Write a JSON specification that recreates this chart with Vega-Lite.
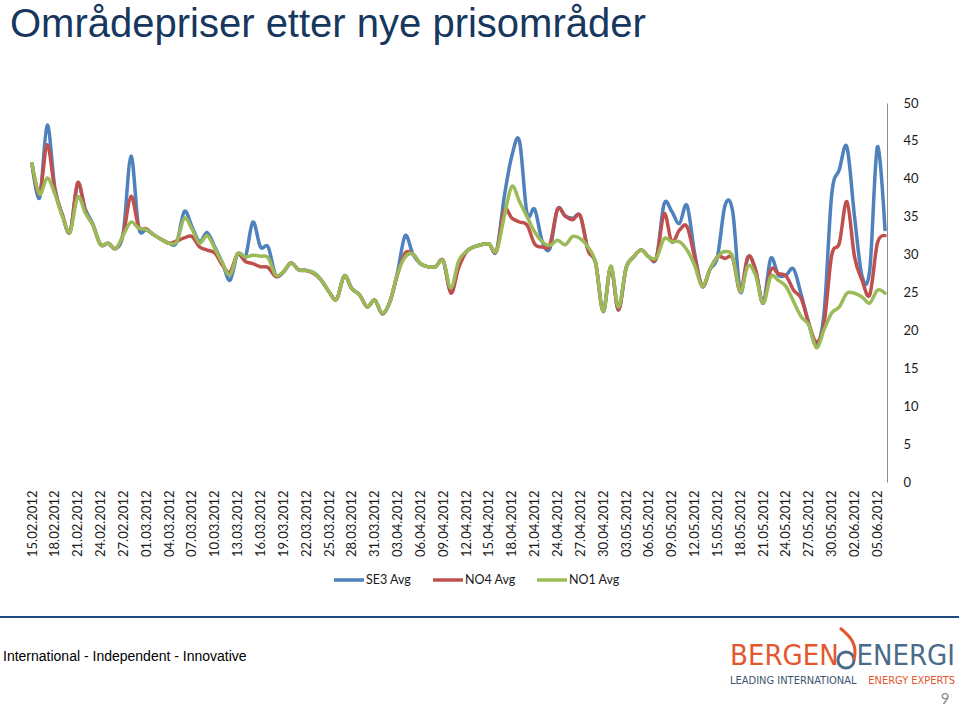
{
  "$schema": "https://vega.github.io/schema/vega-lite/v6.json",
  "width": 867,
  "height": 379,
  "autosize": "none",
  "padding": {"left": 20, "top": 103, "right": 72, "bottom": 225},
  "background": "white",
  "config": {"view": {"stroke": null}, "font": "Lato"},
  "title": {"text": "Områdepriser etter nye prisområder", "anchor": "start", "frame": "group", "orient": "top", "offset": 52, "dx": -10, "font": "Liberation Sans", "fontSize": 40, "fontWeight": "normal", "color": "#17375E"},
  "layer": [
    {
      "data": {"values": [
        {"date": "15.02.2012", "SE3 Avg": 42, "NO4 Avg": 42, "NO1 Avg": 42},
        {"date": "16.02.2012", "SE3 Avg": 37.5, "NO4 Avg": 38, "NO1 Avg": 38},
        {"date": "17.02.2012", "SE3 Avg": 47.1, "NO4 Avg": 44.5, "NO1 Avg": 40.1},
        {"date": "18.02.2012", "SE3 Avg": 38.8, "NO4 Avg": 38.5, "NO1 Avg": 38},
        {"date": "19.02.2012", "SE3 Avg": 35.2, "NO4 Avg": 35.2, "NO1 Avg": 35},
        {"date": "20.02.2012", "SE3 Avg": 33, "NO4 Avg": 33, "NO1 Avg": 33},
        {"date": "21.02.2012", "SE3 Avg": 39.3, "NO4 Avg": 39.5, "NO1 Avg": 37.6},
        {"date": "22.02.2012", "SE3 Avg": 36, "NO4 Avg": 35.7, "NO1 Avg": 35.5},
        {"date": "23.02.2012", "SE3 Avg": 34, "NO4 Avg": 33.9, "NO1 Avg": 33.9},
        {"date": "24.02.2012", "SE3 Avg": 31.3, "NO4 Avg": 31.3, "NO1 Avg": 31.3},
        {"date": "25.02.2012", "SE3 Avg": 31.5, "NO4 Avg": 31.5, "NO1 Avg": 31.5},
        {"date": "26.02.2012", "SE3 Avg": 30.8, "NO4 Avg": 30.8, "NO1 Avg": 30.8},
        {"date": "27.02.2012", "SE3 Avg": 33, "NO4 Avg": 32.8, "NO1 Avg": 32.6},
        {"date": "28.02.2012", "SE3 Avg": 43, "NO4 Avg": 37.7, "NO1 Avg": 34.3},
        {"date": "29.02.2012", "SE3 Avg": 33.6, "NO4 Avg": 33.7, "NO1 Avg": 33.5},
        {"date": "01.03.2012", "SE3 Avg": 33.3, "NO4 Avg": 33.4, "NO1 Avg": 33.3},
        {"date": "02.03.2012", "SE3 Avg": 32.6, "NO4 Avg": 32.6, "NO1 Avg": 32.6},
        {"date": "03.03.2012", "SE3 Avg": 32, "NO4 Avg": 32, "NO1 Avg": 32},
        {"date": "04.03.2012", "SE3 Avg": 31.5, "NO4 Avg": 31.5, "NO1 Avg": 31.5},
        {"date": "05.03.2012", "SE3 Avg": 31.6, "NO4 Avg": 31.8, "NO1 Avg": 31.7},
        {"date": "06.03.2012", "SE3 Avg": 35.7, "NO4 Avg": 32.2, "NO1 Avg": 34.8},
        {"date": "07.03.2012", "SE3 Avg": 33.7, "NO4 Avg": 32.4, "NO1 Avg": 33.4},
        {"date": "08.03.2012", "SE3 Avg": 31.7, "NO4 Avg": 31, "NO1 Avg": 31.5},
        {"date": "09.03.2012", "SE3 Avg": 32.9, "NO4 Avg": 30.6, "NO1 Avg": 32.5},
        {"date": "10.03.2012", "SE3 Avg": 31, "NO4 Avg": 30.2, "NO1 Avg": 30.8},
        {"date": "11.03.2012", "SE3 Avg": 28.9, "NO4 Avg": 28.6, "NO1 Avg": 28.9},
        {"date": "12.03.2012", "SE3 Avg": 26.6, "NO4 Avg": 27.7, "NO1 Avg": 27.3},
        {"date": "13.03.2012", "SE3 Avg": 30.1, "NO4 Avg": 30.1, "NO1 Avg": 30.1},
        {"date": "14.03.2012", "SE3 Avg": 29.6, "NO4 Avg": 29.1, "NO1 Avg": 29.7},
        {"date": "15.03.2012", "SE3 Avg": 34.3, "NO4 Avg": 28.8, "NO1 Avg": 29.9},
        {"date": "16.03.2012", "SE3 Avg": 31, "NO4 Avg": 28.4, "NO1 Avg": 29.8},
        {"date": "17.03.2012", "SE3 Avg": 31, "NO4 Avg": 28.3, "NO1 Avg": 29.6},
        {"date": "18.03.2012", "SE3 Avg": 27.3, "NO4 Avg": 27.1, "NO1 Avg": 27.3},
        {"date": "19.03.2012", "SE3 Avg": 27.7, "NO4 Avg": 27.7, "NO1 Avg": 27.7},
        {"date": "20.03.2012", "SE3 Avg": 28.9, "NO4 Avg": 28.9, "NO1 Avg": 28.9},
        {"date": "21.03.2012", "SE3 Avg": 28, "NO4 Avg": 28, "NO1 Avg": 28},
        {"date": "22.03.2012", "SE3 Avg": 27.9, "NO4 Avg": 27.9, "NO1 Avg": 27.9},
        {"date": "23.03.2012", "SE3 Avg": 27.6, "NO4 Avg": 27.5, "NO1 Avg": 27.6},
        {"date": "24.03.2012", "SE3 Avg": 26.6, "NO4 Avg": 26.6, "NO1 Avg": 26.6},
        {"date": "25.03.2012", "SE3 Avg": 25.1, "NO4 Avg": 25.1, "NO1 Avg": 25.1},
        {"date": "26.03.2012", "SE3 Avg": 24.1, "NO4 Avg": 24.1, "NO1 Avg": 24.1},
        {"date": "27.03.2012", "SE3 Avg": 27.2, "NO4 Avg": 27.2, "NO1 Avg": 27.2},
        {"date": "28.03.2012", "SE3 Avg": 25.5, "NO4 Avg": 25.5, "NO1 Avg": 25.5},
        {"date": "29.03.2012", "SE3 Avg": 24.7, "NO4 Avg": 24.7, "NO1 Avg": 24.7},
        {"date": "30.03.2012", "SE3 Avg": 23.1, "NO4 Avg": 23.1, "NO1 Avg": 23.1},
        {"date": "31.03.2012", "SE3 Avg": 24, "NO4 Avg": 24, "NO1 Avg": 24},
        {"date": "01.04.2012", "SE3 Avg": 22.2, "NO4 Avg": 22.2, "NO1 Avg": 22.3},
        {"date": "02.04.2012", "SE3 Avg": 23.8, "NO4 Avg": 23.8, "NO1 Avg": 23.8},
        {"date": "03.04.2012", "SE3 Avg": 27.7, "NO4 Avg": 27.4, "NO1 Avg": 27.5},
        {"date": "04.04.2012", "SE3 Avg": 32.5, "NO4 Avg": 30.2, "NO1 Avg": 29.7},
        {"date": "05.04.2012", "SE3 Avg": 30.1, "NO4 Avg": 30.1, "NO1 Avg": 30.1},
        {"date": "06.04.2012", "SE3 Avg": 28.8, "NO4 Avg": 28.8, "NO1 Avg": 28.8},
        {"date": "07.04.2012", "SE3 Avg": 28.4, "NO4 Avg": 28.4, "NO1 Avg": 28.4},
        {"date": "08.04.2012", "SE3 Avg": 28.4, "NO4 Avg": 28.4, "NO1 Avg": 28.4},
        {"date": "09.04.2012", "SE3 Avg": 29.2, "NO4 Avg": 29.2, "NO1 Avg": 29.2},
        {"date": "10.04.2012", "SE3 Avg": 25, "NO4 Avg": 24.9, "NO1 Avg": 25.6},
        {"date": "11.04.2012", "SE3 Avg": 28.5, "NO4 Avg": 28.2, "NO1 Avg": 29.1},
        {"date": "12.04.2012", "SE3 Avg": 30.4, "NO4 Avg": 30.3, "NO1 Avg": 30.4},
        {"date": "13.04.2012", "SE3 Avg": 31, "NO4 Avg": 31, "NO1 Avg": 31},
        {"date": "14.04.2012", "SE3 Avg": 31.3, "NO4 Avg": 31.3, "NO1 Avg": 31.3},
        {"date": "15.04.2012", "SE3 Avg": 31.4, "NO4 Avg": 31.4, "NO1 Avg": 31.4},
        {"date": "16.04.2012", "SE3 Avg": 30.5, "NO4 Avg": 30.5, "NO1 Avg": 30.5},
        {"date": "17.04.2012", "SE3 Avg": 37.6, "NO4 Avg": 35.9, "NO1 Avg": 35},
        {"date": "18.04.2012", "SE3 Avg": 43, "NO4 Avg": 34.8, "NO1 Avg": 39},
        {"date": "19.04.2012", "SE3 Avg": 45, "NO4 Avg": 34.3, "NO1 Avg": 37},
        {"date": "20.04.2012", "SE3 Avg": 35.4, "NO4 Avg": 33.9, "NO1 Avg": 35},
        {"date": "21.04.2012", "SE3 Avg": 36, "NO4 Avg": 31.4, "NO1 Avg": 33},
        {"date": "22.04.2012", "SE3 Avg": 31.7, "NO4 Avg": 31, "NO1 Avg": 31.7},
        {"date": "23.04.2012", "SE3 Avg": 30.8, "NO4 Avg": 31.3, "NO1 Avg": 31.2},
        {"date": "24.04.2012", "SE3 Avg": 36, "NO4 Avg": 36, "NO1 Avg": 31.9},
        {"date": "25.04.2012", "SE3 Avg": 35.1, "NO4 Avg": 35.1, "NO1 Avg": 31.3},
        {"date": "26.04.2012", "SE3 Avg": 34.8, "NO4 Avg": 34.6, "NO1 Avg": 32.4},
        {"date": "27.04.2012", "SE3 Avg": 35.1, "NO4 Avg": 35.1, "NO1 Avg": 32.1},
        {"date": "28.04.2012", "SE3 Avg": 30.6, "NO4 Avg": 30.6, "NO1 Avg": 31},
        {"date": "29.04.2012", "SE3 Avg": 28.9, "NO4 Avg": 28.9, "NO1 Avg": 28.9},
        {"date": "30.04.2012", "SE3 Avg": 22.5, "NO4 Avg": 22.5, "NO1 Avg": 22.5},
        {"date": "01.05.2012", "SE3 Avg": 28.4, "NO4 Avg": 28.4, "NO1 Avg": 28.5},
        {"date": "02.05.2012", "SE3 Avg": 22.7, "NO4 Avg": 22.7, "NO1 Avg": 23.1},
        {"date": "03.05.2012", "SE3 Avg": 28.2, "NO4 Avg": 28.2, "NO1 Avg": 28.2},
        {"date": "04.05.2012", "SE3 Avg": 29.7, "NO4 Avg": 29.7, "NO1 Avg": 29.7},
        {"date": "05.05.2012", "SE3 Avg": 30.6, "NO4 Avg": 30.6, "NO1 Avg": 30.6},
        {"date": "06.05.2012", "SE3 Avg": 29.7, "NO4 Avg": 29.7, "NO1 Avg": 29.7},
        {"date": "07.05.2012", "SE3 Avg": 29.6, "NO4 Avg": 29.6, "NO1 Avg": 29.6},
        {"date": "08.05.2012", "SE3 Avg": 36.7, "NO4 Avg": 35.4, "NO1 Avg": 32.1},
        {"date": "09.05.2012", "SE3 Avg": 35.7, "NO4 Avg": 31.7, "NO1 Avg": 31.7},
        {"date": "10.05.2012", "SE3 Avg": 34.1, "NO4 Avg": 33.2, "NO1 Avg": 31.7},
        {"date": "11.05.2012", "SE3 Avg": 36.5, "NO4 Avg": 33.7, "NO1 Avg": 30.6},
        {"date": "12.05.2012", "SE3 Avg": 30.2, "NO4 Avg": 29.7, "NO1 Avg": 28.6},
        {"date": "13.05.2012", "SE3 Avg": 25.8, "NO4 Avg": 25.8, "NO1 Avg": 25.8},
        {"date": "14.05.2012", "SE3 Avg": 28, "NO4 Avg": 28, "NO1 Avg": 28},
        {"date": "15.05.2012", "SE3 Avg": 29.7, "NO4 Avg": 29.7, "NO1 Avg": 29.7},
        {"date": "16.05.2012", "SE3 Avg": 36.5, "NO4 Avg": 29.5, "NO1 Avg": 30.4},
        {"date": "17.05.2012", "SE3 Avg": 35.7, "NO4 Avg": 29.5, "NO1 Avg": 29.7},
        {"date": "18.05.2012", "SE3 Avg": 25.1, "NO4 Avg": 25.1, "NO1 Avg": 25.1},
        {"date": "19.05.2012", "SE3 Avg": 29.7, "NO4 Avg": 29.7, "NO1 Avg": 28.5},
        {"date": "20.05.2012", "SE3 Avg": 28, "NO4 Avg": 28, "NO1 Avg": 27.3},
        {"date": "21.05.2012", "SE3 Avg": 23.6, "NO4 Avg": 23.6, "NO1 Avg": 23.6},
        {"date": "22.05.2012", "SE3 Avg": 29.5, "NO4 Avg": 28, "NO1 Avg": 27.1},
        {"date": "23.05.2012", "SE3 Avg": 27.3, "NO4 Avg": 27.5, "NO1 Avg": 26.6},
        {"date": "24.05.2012", "SE3 Avg": 27.3, "NO4 Avg": 27.2, "NO1 Avg": 25.8},
        {"date": "25.05.2012", "SE3 Avg": 28.1, "NO4 Avg": 25.3, "NO1 Avg": 23.8},
        {"date": "26.05.2012", "SE3 Avg": 24.7, "NO4 Avg": 24.2, "NO1 Avg": 21.8},
        {"date": "27.05.2012", "SE3 Avg": 20.9, "NO4 Avg": 20.9, "NO1 Avg": 20.7},
        {"date": "28.05.2012", "SE3 Avg": 18.1, "NO4 Avg": 18.5, "NO1 Avg": 17.7},
        {"date": "29.05.2012", "SE3 Avg": 22.3, "NO4 Avg": 20.9, "NO1 Avg": 20.1},
        {"date": "30.05.2012", "SE3 Avg": 37.9, "NO4 Avg": 29.9, "NO1 Avg": 22.3},
        {"date": "31.05.2012", "SE3 Avg": 41.2, "NO4 Avg": 31.5, "NO1 Avg": 23.1},
        {"date": "01.06.2012", "SE3 Avg": 44.2, "NO4 Avg": 37, "NO1 Avg": 24.9},
        {"date": "02.06.2012", "SE3 Avg": 35, "NO4 Avg": 29.7, "NO1 Avg": 24.9},
        {"date": "03.06.2012", "SE3 Avg": 27.1, "NO4 Avg": 26.6, "NO1 Avg": 24.4},
        {"date": "04.06.2012", "SE3 Avg": 28, "NO4 Avg": 24.7, "NO1 Avg": 23.6},
        {"date": "05.06.2012", "SE3 Avg": 44.2, "NO4 Avg": 31.5, "NO1 Avg": 25.3},
        {"date": "06.06.2012", "SE3 Avg": 33.3, "NO4 Avg": 32.5, "NO1 Avg": 24.9}
      ]},
      "transform": [{"fold": ["SE3 Avg", "NO4 Avg", "NO1 Avg"], "as": ["series", "value"]}],
      "mark": {"type": "line", "interpolate": "cardinal", "tension": 0, "strokeWidth": 3.5, "strokeCap": "round", "strokeJoin": "round"},
      "encoding": {
        "x": {"field": "date", "type": "ordinal", "sort": null,
          "scale": {"type": "point", "padding": 0.92, "align": 0.857},
          "axis": {"title": null, "domain": false, "ticks": false, "grid": false, "labelAngle": -90, "labelFontSize": 13, "labelFont": "Lato", "labelColor": "#1a1a1a", "labelPadding": 8,
            "values": ["15.02.2012","18.02.2012","21.02.2012","24.02.2012","27.02.2012","01.03.2012","04.03.2012","07.03.2012","10.03.2012","13.03.2012","16.03.2012","19.03.2012","22.03.2012","25.03.2012","28.03.2012","31.03.2012","03.04.2012","06.04.2012","09.04.2012","12.04.2012","15.04.2012","18.04.2012","21.04.2012","24.04.2012","27.04.2012","30.04.2012","03.05.2012","06.05.2012","09.05.2012","12.05.2012","15.05.2012","18.05.2012","21.05.2012","24.05.2012","27.05.2012","30.05.2012","02.06.2012","05.06.2012"]}},
        "y": {"field": "value", "type": "quantitative",
          "scale": {"domain": [0, 50], "nice": false, "zero": true},
          "axis": {"orient": "right", "title": null, "values": [0, 5, 10, 15, 20, 25, 30, 35, 40, 45, 50], "grid": false, "ticks": false, "domain": true, "domainColor": "#8c8c8c", "domainWidth": 1, "labelFontSize": 13, "labelFont": "Lato", "labelColor": "#1a1a1a", "labelPadding": 16}},
        "color": {"field": "series", "type": "nominal",
          "scale": {"domain": ["SE3 Avg", "NO4 Avg", "NO1 Avg"], "range": ["#4F81BD", "#C0504D", "#9BBB59"]},
          "legend": {"orient": "none", "legendX": 312, "legendY": 460, "direction": "horizontal", "title": null, "symbolType": "stroke", "symbolSize": 900, "symbolStrokeWidth": 3.5, "labelFontSize": 12.5, "labelFont": "Lato", "labelColor": "#1a1a1a", "labelOffset": 0, "columnPadding": 14, "padding": 0}}
      }
    },
    {
      "data": {"values": [{"item": "separator"}]},
      "mark": {"type": "rule", "color": "#1F497D", "strokeWidth": 2},
      "encoding": {"x": {"value": -20}, "x2": {"value": 939}, "y": {"value": 514}}
    },
    {
      "data": {"values": [{"label": "International - Independent - Innovative"}]},
      "mark": {"type": "text", "font": "Liberation Sans", "fontSize": 14, "align": "left", "baseline": "middle", "color": "#000000"},
      "encoding": {"text": {"field": "label"}, "x": {"value": -17}, "y": {"value": 554}}
    },
    {
      "data": {"values": [{"label": "BERGEN"}]},
      "mark": {"type": "text", "font": "Liberation Sans Narrow, DejaVu Sans Condensed, Liberation Sans", "fontSize": 29, "align": "left", "baseline": "middle", "color": "#E4572E"},
      "encoding": {"text": {"field": "label"}, "x": {"value": 710}, "y": {"value": 553}}
    },
    {
      "data": {"values": [{"label": "ENERGI"}]},
      "mark": {"type": "text", "font": "Liberation Sans Narrow, DejaVu Sans Condensed, Liberation Sans", "fontSize": 29, "align": "right", "baseline": "middle", "color": "#4A6B8A"},
      "encoding": {"text": {"field": "label"}, "x": {"value": 935}, "y": {"value": 553}}
    },
    {
      "data": {"values": [{"label": "logo ring"}]},
      "mark": {"type": "point", "shape": "circle", "filled": false, "size": 260, "strokeWidth": 3, "color": "#4A6B8A", "opacity": 1},
      "encoding": {"x": {"value": 826}, "y": {"value": 557}}
    },
    {
      "data": {"values": [{"label": "logo swoosh"}]},
      "mark": {"type": "point", "shape": "M0.4,0.6 C0.6,-0.2 0.2,-0.6 -0.3,-1", "filled": false, "size": 1600, "strokeWidth": 3, "color": "#E4572E", "opacity": 1},
      "encoding": {"x": {"value": 826}, "y": {"value": 545}}
    },
    {
      "data": {"values": [{"label": "LEADING INTERNATIONAL"}]},
      "mark": {"type": "text", "font": "Liberation Sans Narrow, DejaVu Sans Condensed, Liberation Sans", "fontSize": 11, "align": "left", "baseline": "middle", "color": "#3B5670"},
      "encoding": {"text": {"field": "label"}, "x": {"value": 710}, "y": {"value": 578}}
    },
    {
      "data": {"values": [{"label": "ENERGY EXPERTS"}]},
      "mark": {"type": "text", "font": "Liberation Sans Narrow, DejaVu Sans Condensed, Liberation Sans", "fontSize": 11, "align": "right", "baseline": "middle", "color": "#E4572E"},
      "encoding": {"text": {"field": "label"}, "x": {"value": 935}, "y": {"value": 578}}
    },
    {
      "data": {"values": [{"label": "9"}]},
      "mark": {"type": "text", "font": "Lato", "fontSize": 15, "align": "center", "baseline": "middle", "color": "#8C8C8C"},
      "encoding": {"text": {"field": "label"}, "x": {"value": 925}, "y": {"value": 596}}
    }
  ]
}
